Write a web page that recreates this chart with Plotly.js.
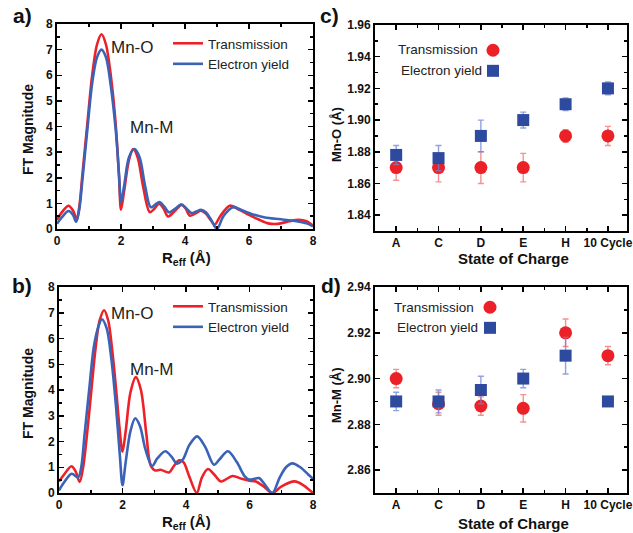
<!DOCTYPE html>
<html><head><meta charset="utf-8">
<script src="https://cdn.plot.ly/plotly-3.0.1.min.js"></script>
<style>html,body{margin:0;padding:0;background:#fff}</style>
</head><body><div id="chart" style="width:633px;height:533px"></div>
<script>
// ---- Panel a) FT magnitude ----
const rTransA = [0,0.15,0.36,0.5,0.62,0.7,0.8,0.94,1.1,1.25,1.39,1.53,1.68,1.84,1.94,2.0,2.1,2.25,2.38,2.52,2.7,2.9,3.05,3.19,3.33,3.47,3.68,3.9,4.02,4.15,4.32,4.5,4.65,4.8,4.93,5.1,5.4,5.7,6.0,6.3,6.6,6.9,7.25,7.55,7.8,8.0];
const ftTransA = [0.36,0.65,0.91,0.72,0.38,0.9,2.2,4.0,6.0,7.2,7.6,7.2,6.0,4.0,2.0,0.75,1.5,2.7,3.12,2.8,1.6,0.66,0.8,0.99,0.8,0.49,0.7,0.95,0.8,0.52,0.6,0.71,0.6,0.35,0.17,0.5,0.91,0.75,0.55,0.37,0.22,0.2,0.3,0.36,0.3,0.13];
const rEyA = [0,0.15,0.36,0.5,0.6,0.7,0.8,0.95,1.1,1.25,1.39,1.53,1.68,1.84,1.94,2.0,2.1,2.25,2.42,2.58,2.75,2.93,3.07,3.2,3.35,3.5,3.7,3.87,4.03,4.2,4.35,4.5,4.65,4.82,5.0,5.2,5.5,5.8,6.1,6.5,7.0,7.5,7.8,8.0];
const ftEyA = [0.2,0.45,0.7,0.55,0.28,0.8,2.0,3.9,5.7,6.7,7.0,6.7,5.6,3.8,2.1,1.05,1.7,2.8,3.12,2.8,1.7,0.85,0.95,1.05,0.88,0.65,0.8,0.95,0.82,0.62,0.68,0.75,0.65,0.35,0.0,0.5,0.85,0.72,0.58,0.45,0.38,0.3,0.22,0.1];
// ---- Panel b) FT magnitude ----
const rTransB = [0,0.15,0.39,0.52,0.65,0.76,0.9,1.02,1.15,1.28,1.42,1.55,1.68,1.8,1.9,2.0,2.1,2.25,2.42,2.58,2.75,2.88,3.02,3.2,3.47,3.62,3.78,3.92,4.1,4.34,4.5,4.69,4.9,5.1,5.47,5.75,6.0,6.2,6.5,6.72,7.0,7.42,7.7,8.0];
const ftTransB = [0.45,0.7,1.04,0.85,0.43,1.0,2.5,4.0,5.6,6.7,7.1,6.7,5.5,4.0,2.6,1.6,2.4,3.9,4.5,4.0,2.3,1.1,0.88,0.9,0.8,1.05,1.27,1.2,0.65,0.0,0.6,0.93,0.7,0.45,0.66,0.55,0.48,0.45,0.2,0.0,0.25,0.45,0.3,0.0];
const rEyB = [0,0.15,0.4,0.6,0.7,0.8,0.95,1.1,1.25,1.35,1.5,1.65,1.8,1.92,2.0,2.1,2.25,2.4,2.55,2.72,2.93,3.1,3.35,3.55,3.71,3.9,4.1,4.35,4.6,4.88,5.05,5.32,5.6,5.85,6.0,6.15,6.3,6.5,6.72,6.95,7.15,7.35,7.6,7.85,8.0];
const ftEyB = [0.1,0.4,0.75,0.6,1.0,2.2,4.0,5.7,6.5,6.75,6.4,5.2,3.3,1.4,0.3,1.2,2.4,2.9,2.6,1.7,1.05,1.35,1.62,1.4,1.14,1.3,1.85,2.2,1.8,1.1,1.3,1.62,1.2,0.65,0.52,0.55,0.58,0.3,0.0,0.6,1.0,1.15,1.0,0.72,0.55];
// ---- Panels c) and d) ----
const categories = ['A','C','D','E','H','10 Cycle'];
const mnOTrans = [1.87,1.87,1.87,1.87,1.89,1.89];
const mnOTransErr = [0.008,0.009,0.01,0.009,0.004,0.006];
const mnOEY = [1.878,1.876,1.89,1.90,1.91,1.92];
const mnOEYErr = [0.006,0.008,0.01,0.005,0.004,0.004];
const mnMTrans = [2.90,2.889,2.888,2.887,2.92,2.91];
const mnMTransErr = [0.004,0.005,0.004,0.006,0.006,0.004];
const mnMEY = [2.89,2.89,2.895,2.90,2.91,2.89];
const mnMEYErr = [0.004,0.005,0.006,0.004,0.008,0.002];
const seriesNames = ['Transmission','Electron yield'];

const W = 633, H = 533;
const px = x => x / W, py = y => 1 - y / H;
const FONT = 'Liberation Sans, Arial, sans-serif';
const RED = '#ee2128', BLUE = '#3a62b6', MRED = '#ec2027', MBLUE = '#2d4a9e';
const idx = categories.map((c, i) => i);

function lineTrace(x, y, color, name, xa, ya, leg) {
  return {x, y, type:'scatter', mode:'lines', name, xaxis:xa, yaxis:ya, legend:leg,
    line:{color, width:2.6, shape:'spline', smoothing:0.9}, cliponaxis:true};
}
function ptTrace(y, err, color, ecolor, symbol, size, xa, ya, leg) {
  return {x: idx, y, type:'scatter', mode:'markers', name:' ', xaxis:xa, yaxis:ya, legend:leg,
    marker:{color, symbol, size, line:{width:0}},
    error_y:{type:'data', array:err, visible:true, color:ecolor, thickness:1.4, width:3}};
}
const data = [
  lineTrace(rTransA, ftTransA, RED, seriesNames[0], 'x', 'y', 'legend'),
  lineTrace(rEyA, ftEyA, BLUE, seriesNames[1], 'x', 'y', 'legend'),
  lineTrace(rTransB, ftTransB, RED, seriesNames[0], 'x3', 'y3', 'legend2'),
  lineTrace(rEyB, ftEyB, BLUE, seriesNames[1], 'x3', 'y3', 'legend2'),
  ptTrace(mnOTrans, mnOTransErr, MRED, 'rgba(240,110,110,0.75)', 'circle', 13, 'x2', 'y2', 'legend3'),
  ptTrace(mnOEY, mnOEYErr, MBLUE, 'rgba(110,130,215,0.75)', 'square', 12, 'x2', 'y2', 'legend3'),
  ptTrace(mnMTrans, mnMTransErr, MRED, 'rgba(240,110,110,0.75)', 'circle', 13, 'x4', 'y4', 'legend4'),
  ptTrace(mnMEY, mnMEYErr, MBLUE, 'rgba(110,130,215,0.75)', 'square', 12, 'x4', 'y4', 'legend4')
];

const tickfont = {family:FONT, size:12, weight:'bold', color:'#111'};
function ax(domain, extra) {
  return Object.assign({domain, showline:true, linecolor:'#000', linewidth:2, mirror:'ticks',
    ticks:'inside', ticklen:5, tickwidth:1.5, tickcolor:'#000', showgrid:false, zeroline:false,
    tickfont, fixedrange:true}, extra);
}
const legBase = {bgcolor:'rgba(0,0,0,0)', borderwidth:0, font:{family:FONT, size:13.5, color:'#222'},
  xanchor:'left', yanchor:'top', itemwidth:30, tracegroupgap:0};

function ann(text, x, y, opts) {
  return Object.assign({text, x:px(x), y:py(y), xref:'paper', yref:'paper', showarrow:false,
    xanchor:'center', yanchor:'middle',
    font:{family:FONT, size:13, weight:'bold', color:'#111'}}, opts);
}
const labelFont = {family:FONT, size:17, color:'#222'};
const legTextFont = {family:FONT, size:13.5, color:'#222'};
const panelFont = {family:FONT, size:21, weight:'bold', color:'#111'};
const titleFont = {family:FONT, size:15, weight:'bold', color:'#111'};
const annotations = [
  ann('a)', 22, 15, {font:panelFont}),
  ann('b)', 22, 285, {font:panelFont}),
  ann('c)', 329, 15, {font:panelFont}),
  ann('d)', 331, 285, {font:panelFont}),
  ann('FT Magnitude', 28, 130, {textangle:-90, font:{family:FONT, size:14, weight:'bold', color:'#111'}}),
  ann('FT Magnitude', 28, 394, {textangle:-90, font:{family:FONT, size:14, weight:'bold', color:'#111'}}),
  ann('R<sub>eff</sub> (Å)', 186, 258, {font:titleFont}),
  ann('R<sub>eff</sub> (Å)', 186, 522, {font:titleFont}),
  ann('Mn-O (Å)', 336, 135, {textangle:-90}),
  ann('Mn-M (Å)', 336, 395, {textangle:-90}),
  ann('State of Charge', 513, 258, {font:titleFont}),
  ann('State of Charge', 513, 523, {font:titleFont}),
  {text:'Mn-O', x:1.62, y:7.1, xref:'x', yref:'y', xanchor:'left', yanchor:'middle', showarrow:false, font:labelFont},
  {text:'Mn-M', x:2.22, y:3.98, xref:'x', yref:'y', xanchor:'left', yanchor:'middle', showarrow:false, font:labelFont},
  {text:'Mn-O', x:1.58, y:6.98, xref:'x3', yref:'y3', xanchor:'left', yanchor:'middle', showarrow:false, font:labelFont},
  {text:'Mn-M', x:2.18, y:4.8, xref:'x3', yref:'y3', xanchor:'left', yanchor:'middle', showarrow:false, font:labelFont},
  ann(seriesNames[0], 480, 50, {xanchor:'right', font:legTextFont}),
  ann(seriesNames[1], 484, 70, {xanchor:'right', font:legTextFont}),
  ann(seriesNames[0], 476, 307, {xanchor:'right', font:legTextFont}),
  ann(seriesNames[1], 480, 327, {xanchor:'right', font:legTextFont})
];

const layout = {
  width:W, height:H, margin:{l:0, r:0, t:0, b:0}, paper_bgcolor:'#fff', plot_bgcolor:'#fff',
  showlegend:true,
  xaxis: ax([px(57), px(313)], {range:[0,8], dtick:2, tick0:0, minor:{dtick:1, ticks:'inside', ticklen:3, tickcolor:'#000'}, anchor:'y'}),
  yaxis: ax([py(229), py(24)], {range:[0,8], dtick:1, tick0:0, minor:{dtick:0.5, ticks:'inside', ticklen:3, tickcolor:'#000'}, anchor:'x'}),
  xaxis3: ax([px(59), px(313)], {range:[0,8], dtick:2, tick0:0, minor:{dtick:1, ticks:'inside', ticklen:3, tickcolor:'#000'}, anchor:'y3'}),
  yaxis3: ax([py(493), py(287)], {range:[0,8], dtick:1, tick0:0, minor:{dtick:0.5, ticks:'inside', ticklen:3, tickcolor:'#000'}, anchor:'x3'}),
  xaxis2: ax([px(375), px(627)], {range:[-0.5,5.45], tickmode:'array', tickvals:idx, ticktext:categories, minor:{dtick:0.5, tick0:0, ticks:'inside', ticklen:3, tickcolor:'#000'}, anchor:'y2'}),
  yaxis2: ax([py(231), py(25)], {range:[1.83,1.96], dtick:0.02, tick0:1.84, tickformat:'.2f', minor:{dtick:0.01, ticks:'inside', ticklen:3, tickcolor:'#000'}, anchor:'x2'}),
  xaxis4: ax([px(375), px(627)], {range:[-0.5,5.45], tickmode:'array', tickvals:idx, ticktext:categories, minor:{dtick:0.5, tick0:0, ticks:'inside', ticklen:3, tickcolor:'#000'}, anchor:'y4'}),
  yaxis4: ax([py(493), py(287)], {range:[2.85,2.94], dtick:0.02, tick0:2.86, tickformat:'.2f', minor:{dtick:0.01, ticks:'inside', ticklen:3, tickcolor:'#000'}, anchor:'x4'}),
  legend: Object.assign({}, legBase, {x:px(168), y:py(28)}),
  legend2: Object.assign({}, legBase, {x:px(168), y:py(291)}),
  legend3: Object.assign({}, legBase, {x:px(473), y:py(35), itemclick:false}),
  legend4: Object.assign({}, legBase, {x:px(470), y:py(292), itemclick:false}),
  annotations
};
Plotly.newPlot('chart', data, layout, {staticPlot:true, displayModeBar:false});
</script></body></html>
